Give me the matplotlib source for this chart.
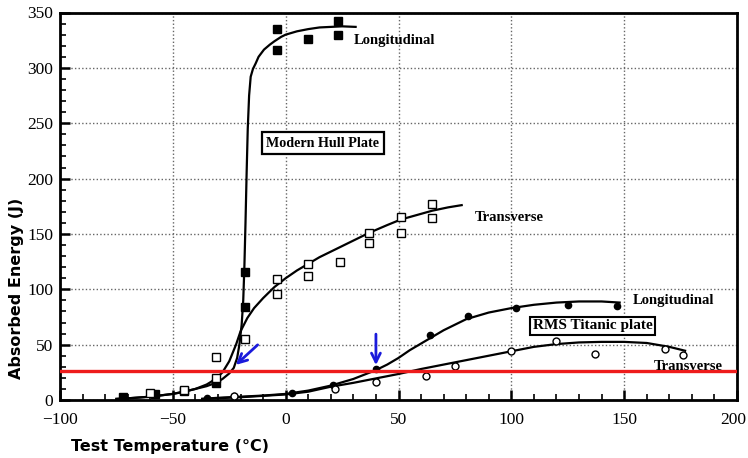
import matplotlib
matplotlib.use("Agg")
import matplotlib.pyplot as plt
import matplotlib.transforms as mtransforms
from matplotlib.ticker import MultipleLocator

# ---------------- data ----------------
hull_long_x = [-72, -58, -45, -31, -18, -18, -4, -4, 10, 23, 23]
hull_long_y = [2.5, 5, 8.5, 15, 116, 84, 335, 316, 326, 342, 330]
hull_trans_x = [-60, -45, -31, -31, -18, -4, -4, 10, 10, 24, 37, 37, 51, 51, 65, 65]
hull_trans_y = [6, 9, 39, 20, 55, 109, 96, 123, 112, 125, 151, 142, 165, 151, 177, 164]
tit_long_x = [-35, -23, 3, 21, 40, 64, 81, 102, 125, 147]
tit_long_y = [2, 3.5, 6, 13.5, 28, 59, 76, 83, 86, 85]
tit_trans_x = [-23, 22, 40, 62, 75, 100, 120, 137, 168, 176]
tit_trans_y = [3.5, 10, 16, 22, 31, 44, 53, 42, 46, 41]

# fitted curves
hull_long_cx = [-75, -70, -60, -50, -45, -40, -35, -31, -28, -25, -23, -21.5, -20.5, -19.5,
                -18.8, -18.3, -17.8, -17.3, -16.8, -16.2, -15.5, -14.5, -13.3, -12, -9.6,
                -7, -5, -2, 0, 5, 10, 15, 20, 25, 31]
hull_long_cy = [1, 1.5, 3, 5.5, 7.5, 10, 12.5, 15.5, 19, 24, 29, 38, 50, 68,
                90, 120, 160, 205, 245, 275, 292, 299, 304, 310, 316.5,
                321, 324, 328, 330, 333, 335, 336.5, 337, 337.5, 337]
hull_trans_cx = [-75, -70, -60, -50, -45, -40, -35, -31, -28, -25, -22, -20, -17, -14, -10,
                 -5, 0, 5, 10, 15, 20, 25, 30, 37, 45, 51, 58, 65, 72, 78]
hull_trans_cy = [1, 1.5, 3, 5.5, 7.5, 10, 14, 19, 25, 35, 50, 62, 74, 83, 92,
                 102, 110, 117, 123, 129, 134, 139, 144, 151, 158, 163, 167, 171, 174, 176]
tit_long_cx = [-37, -30, -20, -10, 0, 10, 20, 30, 40, 45, 50, 55, 60, 65, 70, 75, 80, 90,
               100, 110, 120, 130, 140, 148]
tit_long_cy = [1, 2, 3, 4, 5.5, 8.5, 13, 19, 27, 32, 38, 45, 51, 57, 63, 68, 73, 79,
               83, 86, 88, 89, 89, 88]
tit_trans_cx = [-37, -20, 0, 10, 20, 30, 40, 50, 60, 70, 80, 90, 100, 110, 120, 130, 140,
                150, 160, 170, 177]
tit_trans_cy = [1, 2.5, 5, 7.5, 12, 15.5, 19.5, 23.5, 28, 32, 36, 40, 44, 48, 50.5, 52,
                52.5, 52.5, 51.5, 48, 44.5]

red_level = 26.5
xticks = [-100, -50, 0, 50, 100, 150, 200]
yticks = [0, 50, 100, 150, 200, 250, 300, 350]

# ---------------- figure ----------------
fig = plt.figure(figsize=(7.48, 4.58), dpi=100)
ax = fig.add_axes([60 / 748, 1 - 400 / 458, 677 / 748, 387.5 / 458])
ax.set_xlim(-100, 200)
ax.set_ylim(0, 350)

ax.set_xticks(xticks)
ax.set_yticks(yticks)
ax.xaxis.set_minor_locator(MultipleLocator(10))
ax.yaxis.set_minor_locator(MultipleLocator(10))
ax.tick_params(which="major", direction="in", length=7, width=1.8, labelsize=12.5)
ax.tick_params(which="minor", direction="in", length=4, width=1.2)
ax.tick_params(axis="x", which="major", pad=9)
ax.tick_params(axis="y", which="major", pad=5)
ax.tick_params(axis="x", which="both", top=False)
ax.tick_params(axis="y", which="both", right=False)
ax.set_xticklabels([str(t).replace("-", "\u2212") for t in xticks])
for lab in ax.get_xticklabels() + ax.get_yticklabels():
    lab.set_fontfamily("Liberation Serif")
    lab.set_fontsize(12.5)
last = ax.get_xticklabels()[-1]
last.set_transform(last.get_transform() +
                   mtransforms.ScaledTranslation(-4 / 100, 0, fig.dpi_scale_trans))
for s in ax.spines.values():
    s.set_linewidth(2)

ax.grid(True, which="major", linestyle=(0, (1.0, 1.6)), color="#666666", linewidth=1.0)
ax.set_axisbelow(True)

# curves
lc = dict(color="black", linewidth=1.6, zorder=3)
ax.plot(hull_long_cx, hull_long_cy, **lc)
ax.plot(hull_trans_cx, hull_trans_cy, **lc)
ax.plot(tit_long_cx, tit_long_cy, **lc)
ax.plot(tit_trans_cx, tit_trans_cy, **lc)

# points
ax.plot(hull_long_x, hull_long_y, "s", color="black", markersize=5.5, zorder=4)
ax.plot(hull_trans_x, hull_trans_y, "s", mfc="white", mec="black", mew=1.0,
        markersize=6, zorder=4)
ax.plot(tit_long_x, tit_long_y, "o", color="black", markersize=4.5, zorder=4)
ax.plot(tit_trans_x, tit_trans_y, "o", mfc="white", mec="black", mew=1.0,
        markersize=5, zorder=4)

# red line
ax.axhline(red_level, color="#ee1c1c", linewidth=2.4, zorder=5)

# blue arrows
akw = dict(arrowstyle="->", color="#1a1adb", lw=2.0, mutation_scale=16)
ax.annotate("", xy=(-23, 30), xytext=(-11.5, 51.5), arrowprops=akw, zorder=6)
ax.annotate("", xy=(40, 29), xytext=(40, 62), arrowprops=akw, zorder=6)

# labels
tf = dict(family="Liberation Serif", fontweight="bold", fontsize=10.5, zorder=6)
ax.text(30, 325, "Longitudinal", va="center", ha="left", **tf)
ax.text(84, 164.5, "Transverse", va="center", ha="left", **tf)
ax.text(154, 89.5, "Longitudinal", va="center", ha="left", **tf)
ax.text(163, 30.5, "Transverse", va="center", ha="left", **tf)
ax.text(16.5, 232, "Modern Hull Plate", va="center", ha="center",
        family="Liberation Serif", fontweight="bold", fontsize=10.2, zorder=6,
        bbox=dict(boxstyle="square,pad=0.3", fc="white", ec="black", lw=1.6))
ax.text(136, 67, "RMS Titanic plate", va="center", ha="center",
        family="Liberation Serif", fontweight="bold", fontsize=11, zorder=6,
        bbox=dict(boxstyle="square,pad=0.15", fc="white", ec="black", lw=1.5))

fig.text(170 / 748, 1 - 447 / 458, "Test Temperature (\u00b0C)", ha="center", va="center",
         family="DejaVu Sans", fontweight="heavy", fontsize=11.5)
fig.text(17 / 748, 1 - 288 / 458, "Absorbed Energy (J)", ha="center", va="center",
         rotation=90, family="DejaVu Sans", fontweight="heavy", fontsize=11.5)

fig.savefig("out.png", dpi=100)
